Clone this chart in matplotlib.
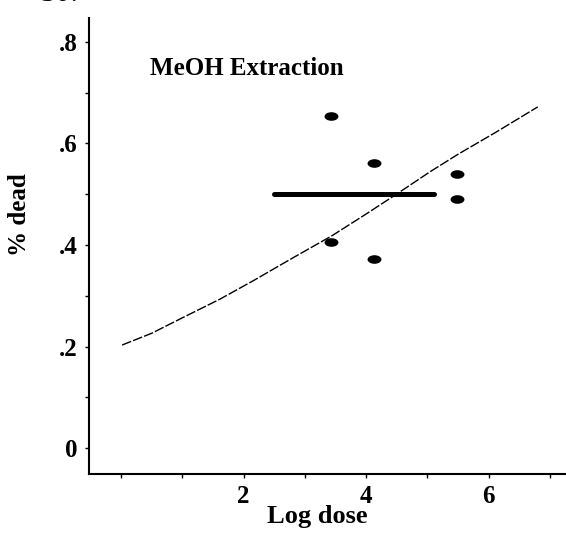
import numpy as np
import matplotlib
matplotlib.use("Agg")
import matplotlib.pyplot as plt
from matplotlib.path import Path
from matplotlib.transforms import Affine2D

# ---- data ----
point_x = [3.43, 3.43, 4.13, 4.13, 5.48, 5.48]
point_y = [0.654, 0.406, 0.562, 0.372, 0.540, 0.491]

mean_x = [2.50, 5.11]
mean_y = [0.50, 0.50]

curve_x = [0.02, 0.50, 0.96, 1.61, 2.15, 2.81, 3.44, 4.00, 4.52, 5.04, 5.49, 6.13, 6.80]
curve_y = [0.203, 0.226, 0.254, 0.293, 0.329, 0.375, 0.418, 0.461, 0.502, 0.544, 0.578, 0.623, 0.672]

x_ticks = [0, 1, 2, 3, 4, 5, 6, 7]
x_tick_labels = ["", "", "2", "", "4", "", "6", ""]
y_ticks = [0, 0.1, 0.2, 0.3, 0.4, 0.5, 0.6, 0.7, 0.8]
y_tick_labels = ["0", "", ".2", "", ".4", "", ".6", "", ".8"]

title_text = "MeOH Extraction"
x_label = "Log dose"
y_label = "% dead"

# ---- figure ----
plt.rcParams["font.family"] = ["Liberation Serif", "DejaVu Serif"]
W, H = 566, 533
fig = plt.figure(figsize=(W / 100, H / 100), dpi=100)
left, right, bottom, top = 89, 566, 474, 18
ax = fig.add_axes([left / W, (H - bottom) / H, (right - left) / W, (bottom - top) / H])

ax.set_xlim(-0.52, 7.26)
ax.set_ylim(-0.051, 0.847)

# oval marker
ell = Affine2D().scale(1.0, 0.62).transform_path(Path.unit_circle())
ax.plot(point_x, point_y, linestyle="none", marker=ell, markersize=10,
        color="black", markeredgewidth=0)

ax.plot(mean_x, mean_y, color="black", linewidth=3.6, solid_capstyle="round")

ax.plot(curve_x, curve_y, color="black", linewidth=1.0, dashes=(7, 1.5))

ax.text(0.47, 0.747, title_text, fontsize=18, fontweight="bold",
        va="center", ha="left")

for s in ["top", "right"]:
    ax.spines[s].set_visible(False)
for s in ["left", "bottom"]:
    ax.spines[s].set_linewidth(1.5)

ax.set_xticks(x_ticks)
ax.set_xticklabels(x_tick_labels)
ax.set_yticks(y_ticks)
ax.set_yticklabels(y_tick_labels)
ax.tick_params(axis="both", direction="out", length=3, width=1.0,
               labelsize=18)
ax.tick_params(axis="x", pad=5)
ax.tick_params(axis="y", pad=5)
for lab in ax.get_xticklabels() + ax.get_yticklabels():
    lab.set_fontweight("bold")

ax.set_xlabel(x_label, fontsize=19, fontweight="bold", va="center")
ax.xaxis.set_label_coords((317 - left) / (right - left), -(516 - bottom) / (bottom - top), transform=ax.transAxes)
ax.set_ylabel(y_label, fontsize=18, fontweight="bold", va="center")
ax.yaxis.set_label_coords(-(left - 20) / (right - left), (bottom - 215) / (bottom - top), transform=ax.transAxes)

# partially cut caption at very top
fig.text(40 / W, 1 - 8 / H, "30.", fontsize=22, va="bottom", ha="left")

fig.savefig("out.png", dpi=100)
